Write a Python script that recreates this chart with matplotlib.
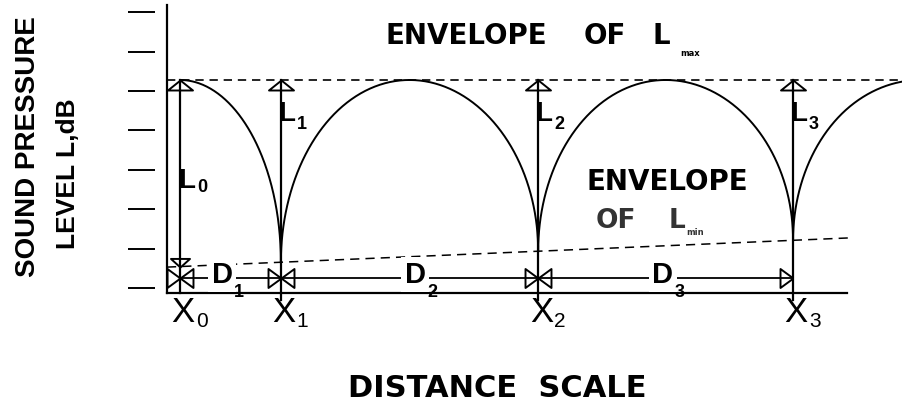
import numpy as np
import matplotlib
matplotlib.use('Agg')
import matplotlib.pyplot as plt

# diagram units: one step of the level scale = one distance unit
x_pos = [0.0, 2.56, 9.09, 15.56]          # X0 .. X3
x_subs = ['0', '1', '2', '3']
level_ticks = [0, 1, 2, 3, 4, 5, 6, 7]
l_max = 5.28
lmin_x = [-0.33, 16.95]                   # ends of the L_min envelope
lmin_y = [0.53, 1.27]
d_level = 0.25                            # height of the D arrows
d_subs = ['1', '2', '3']
axis_x, axis_y = -0.33, -0.13
axis_top, axis_right = 7.18, 16.93

narrow = ['Liberation Sans', 'DejaVu Sans']
wide = ['DejaVu Sans']
plain = ['Liberation Sans', 'DejaVu Sans']

fig = plt.figure(figsize=(9.03, 4.08), dpi=100)
ax = fig.add_axes([0, 0, 1, 1])
ax.set_xlim(-4.569, 18.350)
ax.set_ylim(-3.046, 7.310)
ax.axis('off')

def lmin(x):
    return np.interp(x, lmin_x, lmin_y)

# axes and level ticks
ax.plot([axis_x, axis_x], [axis_y, axis_top], color='black', lw=1.6)
ax.plot([axis_x, axis_right], [axis_y, axis_y], color='black', lw=1.6)
ax.hlines(level_ticks, -1.32, -0.635, color='black', lw=1.4)

# envelopes
ax.plot([axis_x, 18.35], [l_max, l_max], color='black', lw=1.2, dashes=(5, 3.5))
ax.plot(lmin_x, lmin_y, color='black', lw=1.1, dashes=(6, 4))

# arches between the minima
t = np.linspace(0, np.pi / 2, 200)
xs = x_pos[0] + (x_pos[1] - x_pos[0]) * np.sin(t)
ax.plot(xs, lmin(xs) + (l_max - lmin(xs)) * np.cos(t), color='black', lw=1.4)
edges = x_pos[1:] + [x_pos[-1] + (x_pos[-1] - x_pos[-2])]
t = np.linspace(0, np.pi, 400)
for a, b in zip(edges[:-1], edges[1:]):
    c, half = (a + b) / 2, (b - a) / 2
    xs = c - half * np.cos(t)
    ax.plot(xs, lmin(xs) + (l_max - lmin(xs)) * np.sin(t), color='black', lw=1.4)

# level arrows
ax.plot([x_pos[0], x_pos[0]], [axis_y, l_max], color='black', lw=1.6)
for x in x_pos[1:]:
    ax.plot([x, x], [-0.30, l_max], color='black', lw=1.6)

tri_up = [(0, 0), (-1, -0.8), (1, -0.8), (0, 0)]
tri_down = [(0, 0), (-1, 0.9), (1, 0.9), (0, 0)]
tri_right = [(0, 0), (-1, 0.73), (-1, -0.73), (0, 0)]
tri_left = [(0, 0), (1, 0.73), (1, -0.73), (0, 0)]
mk = dict(color='black', mfc='none', mew=1.4, ls='none')
ax.plot(x_pos, [l_max] * len(x_pos), marker=tri_up, ms=18, **mk)
ax.plot([x_pos[0]], [lmin(x_pos[0])], marker=tri_down, ms=13.7, **mk)

# distance arrows
ax.plot([x_pos[0], x_pos[-1]], [d_level, d_level], color='black', lw=1.3)
ax.plot(x_pos, [d_level] * 4, marker=tri_right, ms=18.7, **mk)
ax.plot(x_pos[:-1], [d_level] * 3, marker=tri_left, ms=18.7, **mk)

d_centers = [1.07, 5.97, 12.25]
for dc, s in zip(d_centers, d_subs):
    ax.text(dc, d_level + 0.08, 'D', ha='center', va='center', fontsize=21,
            fontweight='bold', family=narrow,
            bbox=dict(fc='white', ec='none', pad=2.5))
    ax.text(dc + 0.30, -0.12, s, ha='left', va='center', fontsize=13,
            fontweight='bold', family=narrow)

# L labels
ax.text(x_pos[0] - 0.05, 2.72, 'L', ha='left', va='center', fontsize=20,
        fontweight='bold', family=narrow)
ax.text(x_pos[0] + 0.43, 2.54, '0', ha='left', va='center', fontsize=13,
        fontweight='bold', family=narrow)
for x, s in zip(x_pos[1:], x_subs[1:]):
    ax.text(x - 0.07, 4.42, 'L', ha='left', va='center', fontsize=20,
            fontweight='bold', family=narrow)
    ax.text(x + 0.40, 4.16, s, ha='left', va='center', fontsize=13,
            fontweight='bold', family=narrow)

# X labels
for x, s in zip(x_pos, x_subs):
    ax.text(x + 0.08, -0.61, 'X', ha='center', va='center', fontsize=25,
            family=plain)
    ax.text(x + 0.40, -0.86, s, ha='left', va='center', fontsize=15,
            family=plain)

# envelope captions
ax.text(7.26, 6.40, 'ENVELOPE', ha='center', va='center', fontsize=20,
        fontweight='bold', family=wide)
ax.text(10.79, 6.40, 'OF', ha='center', va='center', fontsize=20,
        fontweight='bold', family=wide)
ax.text(12.0, 6.40, 'L', ha='left', va='center', fontsize=20,
        fontweight='bold', family=wide)
ax.text(12.69, 5.96, 'max', ha='left', va='center', fontsize=6,
        fontweight='bold', family=wide)

ax.text(12.36, 2.69, 'ENVELOPE', ha='center', va='center', fontsize=20,
        fontweight='bold', family=wide)
ax.text(11.07, 1.70, 'OF', ha='center', va='center', fontsize=19,
        fontweight='bold', family=wide, color='#333333')
ax.text(12.39, 1.70, 'L', ha='left', va='center', fontsize=19,
        fontweight='bold', family=wide, color='#333333')
ax.text(12.84, 1.42, 'min', ha='left', va='center', fontsize=6,
        fontweight='bold', family=wide, color='#333333')

ax.text(8.05, -2.56, 'DISTANCE  SCALE', ha='center', va='center', fontsize=22,
        fontweight='bold', family=wide)

# level axis title
ax.text(-3.86, 3.58, 'SOUND PRESSURE', rotation=90, ha='center', va='center',
        fontsize=20, fontweight='bold', family=narrow)
ax.text(-2.84, 2.89, 'LEVEL L,dB', rotation=90, ha='center', va='center',
        fontsize=19, fontweight='bold', family=narrow)

fig.savefig('out.png', dpi=100)
